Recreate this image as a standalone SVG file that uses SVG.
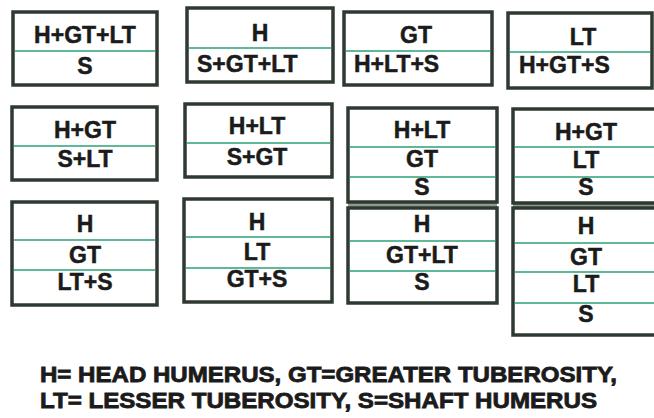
<svg xmlns="http://www.w3.org/2000/svg" width="654" height="418" viewBox="0 0 654 418">
<style>
.box{fill:#ffffff;stroke:#2e3a31;stroke-width:3.5}
.div{stroke:#5fb898;stroke-width:2}
.t{font-family:"Liberation Sans",Arial,sans-serif;font-weight:bold;font-size:23px;fill:#1b1b1b;stroke:#1b1b1b;stroke-width:0.5;text-anchor:middle}
.l{text-anchor:start}
.leg{font-family:"Liberation Sans",Arial,sans-serif;font-weight:bold;font-size:22px;fill:#1b1b1b;stroke:#1b1b1b;stroke-width:0.8}
.gap{fill:#8f9a92}
</style>
<rect width="654" height="418" fill="#ffffff"/>
<g id="box1">
<rect class="box" x="13" y="12" width="144" height="73"/>
<line class="div" x1="15" y1="51" x2="155" y2="51"/>
<text class="t" x="85" y="43">H+GT+LT</text>
<text class="t" x="85" y="74">S</text>
</g>
<g id="box2">
<rect class="box" x="187" y="8" width="146" height="74"/>
<line class="div" x1="189" y1="48" x2="331" y2="48"/>
<text class="t" x="260" y="41">H</text>
<text class="t l" x="197" y="72">S+GT+LT</text>
</g>
<g id="box3">
<rect class="box" x="344" y="12" width="148" height="73"/>
<line class="div" x1="346" y1="51" x2="490" y2="51"/>
<text class="t" x="416" y="43">GT</text>
<text class="t l" x="354" y="72">H+LT+S</text>
</g>
<g id="box4">
<rect class="box" x="508" y="13" width="144" height="75"/>
<line class="div" x1="510" y1="52" x2="650" y2="52"/>
<text class="t" x="583" y="45">LT</text>
<text class="t l" x="519" y="73">H+GT+S</text>
</g>
<g id="box5">
<rect class="box" x="12" y="107" width="145" height="73"/>
<line class="div" x1="14" y1="146" x2="155" y2="146"/>
<text class="t" x="85" y="138">H+GT</text>
<text class="t" x="85" y="167">S+LT</text>
</g>
<g id="box6">
<rect class="box" x="185" y="104" width="147" height="73"/>
<line class="div" x1="187" y1="143" x2="330" y2="143"/>
<text class="t" x="257" y="134">H+LT</text>
<text class="t" x="257" y="165">S+GT</text>
</g>
<g id="box7">
<rect class="gap" x="348" y="202" width="149" height="6"/>
<rect class="box" x="348" y="108" width="149" height="94"/>
<line class="div" x1="350" y1="147" x2="495" y2="147"/>
<line class="div" x1="350" y1="177" x2="495" y2="177"/>
<text class="t" x="422" y="138">H+LT</text>
<text class="t" x="422" y="167">GT</text>
<text class="t" x="422" y="195">S</text>
</g>
<g id="box8">
<rect class="gap" x="513" y="203" width="150" height="5"/>
<rect class="box" x="513" y="109" width="147" height="94"/>
<line class="div" x1="515" y1="147" x2="658" y2="147"/>
<line class="div" x1="515" y1="177" x2="658" y2="177"/>
<text class="t" x="586" y="140">H+GT</text>
<text class="t" x="586" y="168">LT</text>
<text class="t" x="586" y="195">S</text>
</g>
<g id="box9">
<rect class="box" x="12" y="202" width="145" height="103"/>
<line class="div" x1="14" y1="240" x2="155" y2="240"/>
<line class="div" x1="14" y1="270" x2="155" y2="270"/>
<text class="t" x="85" y="232">H</text>
<text class="t" x="85" y="263">GT</text>
<text class="t" x="85" y="290">LT+S</text>
</g>
<g id="box10">
<rect class="box" x="184" y="199" width="148" height="103"/>
<line class="div" x1="186" y1="237" x2="330" y2="237"/>
<line class="div" x1="186" y1="268" x2="330" y2="268"/>
<text class="t" x="257" y="230">H</text>
<text class="t" x="257" y="260">LT</text>
<text class="t" x="257" y="287">GT+S</text>
</g>
<g id="box11">
<rect class="box" x="348" y="208" width="149" height="95"/>
<line class="div" x1="350" y1="241" x2="495" y2="241"/>
<line class="div" x1="350" y1="271" x2="495" y2="271"/>
<text class="t" x="422" y="232">H</text>
<text class="t" x="422" y="263">GT+LT</text>
<text class="t" x="422" y="290">S</text>
</g>
<g id="box12">
<rect class="box" x="513" y="208" width="147" height="127"/>
<line class="div" x1="515" y1="243" x2="658" y2="243"/>
<line class="div" x1="515" y1="272" x2="658" y2="272"/>
<line class="div" x1="515" y1="303" x2="658" y2="303"/>
<text class="t" x="586" y="234">H</text>
<text class="t" x="586" y="265">GT</text>
<text class="t" x="586" y="292">LT</text>
<text class="t" x="586" y="322">S</text>
</g>
<g id="legend">
<text class="leg" x="40" y="382" textLength="577" lengthAdjust="spacingAndGlyphs">H= HEAD HUMERUS, GT=GREATER TUBEROSITY,</text>
<text class="leg" x="40" y="408" textLength="557" lengthAdjust="spacingAndGlyphs">LT= LESSER TUBEROSITY, S=SHAFT HUMERUS</text>
</g>
</svg>
